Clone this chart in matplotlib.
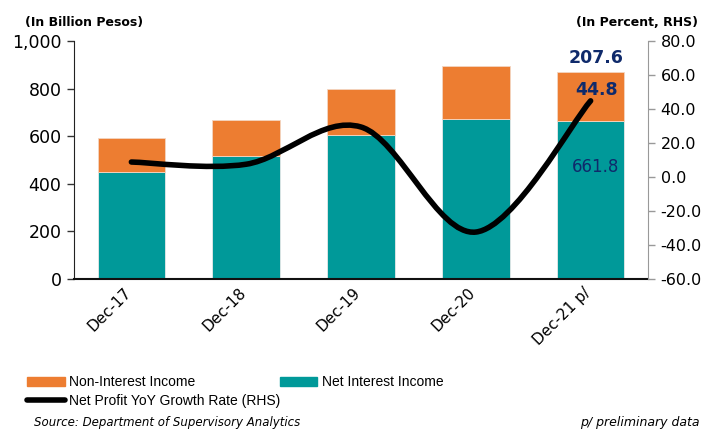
import numpy as np
import matplotlib.pyplot as plt
import matplotlib.transforms as mtransforms
from matplotlib.path import Path
from matplotlib.patches import PathPatch, Patch
from matplotlib.lines import Line2D

plt.rcParams['font.family'] = ['DejaVu Sans']

# === DATA === #
periods = ['Dec-17', 'Dec-18', 'Dec-19', 'Dec-20', 'Dec-21 p/']
net_interest = [450.0, 517.0, 605.0, 672.0, 661.8]
non_interest = [142.0, 151.0, 193.0, 223.0, 207.6]
profit_growth = [8.8, 7.5, 29.4, -32.4, 44.8]

c_orange = '#ED7D31'
c_teal = '#009999'
c_navy = '#0F2A6B'


def smooth_path(xs, ys, tension=1.0 / 6):
    # bezier segments through every point (excel-style smoothed line)
    n = len(xs)
    pts = list(zip(xs, ys))
    verts = [pts[0]]
    codes = [Path.MOVETO]
    for i in range(n - 1):
        p0 = pts[i - 1] if i > 0 else pts[i]
        p1 = pts[i]
        p2 = pts[i + 1]
        p3 = pts[i + 2] if i + 2 < n else pts[i + 1]
        c1 = (p1[0] + (p2[0] - p0[0]) * tension, p1[1] + (p2[1] - p0[1]) * tension)
        c2 = (p2[0] - (p3[0] - p1[0]) * tension, p2[1] - (p3[1] - p1[1]) * tension)
        verts += [c1, c2, p2]
        codes += [Path.CURVE4] * 3
    return Path(verts, codes)


fig = plt.figure(figsize=(7.14, 4.30), dpi=100)
ax = fig.add_axes([0.1036, 0.3512, 0.8040, 0.5535])
x = np.arange(len(periods))

ax.bar(x, net_interest, width=0.59, color=c_teal, edgecolor='#e8e8e8', linewidth=0.6, zorder=2)
ax.bar(x, non_interest, width=0.59, bottom=net_interest, color=c_orange,
       edgecolor='#f3d6c2', linewidth=0.6, zorder=2)

ax.set_xlim(-0.5, 4.5)
ax.set_ylim(0, 1000)
ax.set_yticks(range(0, 1001, 200))
ax.set_yticklabels(['0', '200', '400', '600', '800', '1,000'], fontsize=12.5)
ax.set_xticks(x)
ax.set_xticklabels(periods, rotation=45, ha='right', rotation_mode='anchor', fontsize=11)
ax.tick_params(axis='x', length=0, pad=6)
shift = mtransforms.ScaledTranslation(-8 / 100, 2 / 100, fig.dpi_scale_trans)
for lbl in ax.get_xticklabels():
    lbl.set_transform(lbl.get_transform() + shift)
ax.tick_params(axis='y', length=5, width=1, color='#333333', pad=4)
ax.spines['top'].set_visible(False)
ax.spines['right'].set_visible(False)
ax.spines['left'].set_color('#222222')
ax.spines['bottom'].set_color('#111111')
ax.spines['bottom'].set_linewidth(1.5)

ax2 = ax.twinx()
ax2.set_ylim(-60, 80)
ax2.set_yticks(range(-60, 81, 20))
ax2.set_yticklabels(['%.1f' % v for v in range(-60, 81, 20)], fontsize=11.5)
ax2.tick_params(axis='y', length=5, width=1, color='#999999', pad=4)
for s in ['top', 'left', 'bottom']:
    ax2.spines[s].set_visible(False)
ax2.spines['right'].set_color('#999999')

curve = PathPatch(smooth_path(x, profit_growth), facecolor='none', edgecolor='black',
                  linewidth=4, capstyle='round', zorder=3)
ax2.add_patch(curve)

# labels on the latest bar
ax.text(x[4] + 0.05, net_interest[4] + non_interest[4] + 22, '%.1f' % non_interest[4],
        ha='center', va='bottom', fontsize=12.5, fontweight='bold', color=c_navy)
ax2.text(x[4] + 0.05, profit_growth[4] + 1, '%.1f' % profit_growth[4],
         ha='center', va='bottom', fontsize=12.5, fontweight='bold', color=c_navy, zorder=4)
ax.text(x[4] + 0.04, 470, '%.1f' % net_interest[4], ha='center', va='center',
        fontsize=12, color=c_navy)

fig.text(0.035, 0.948, '(In Billion Pesos)', fontsize=9, fontweight='bold', va='center')
fig.text(0.977, 0.948, '(In Percent, RHS)', fontsize=9, fontweight='bold', va='center', ha='right')

leg_kw = dict(loc='upper left', frameon=False, handlelength=2.7, handletextpad=0.3,
              labelspacing=0.35, borderpad=0, borderaxespad=0,
              prop={'family': 'Liberation Sans', 'size': 10})
fig.legend([Patch(color=c_orange),
            Line2D([0], [0], color='black', linewidth=4, solid_capstyle='round')],
           ['Non-Interest Income', 'Net Profit YoY Growth Rate (RHS)'],
           bbox_to_anchor=(0.038, 0.127), **leg_kw)
fig.legend([Patch(color=c_teal)], ['Net Interest Income'],
           bbox_to_anchor=(0.392, 0.127), **leg_kw)

fig.text(0.98, 0.018, 'p/ preliminary data', fontsize=9, style='italic', ha='right', va='center')
fig.text(0.047, 0.002, 'Source: Department of Supervisory Analytics', fontsize=8.5,
         style='italic', ha='left', va='bottom')

fig.savefig('out.png', dpi=100)
